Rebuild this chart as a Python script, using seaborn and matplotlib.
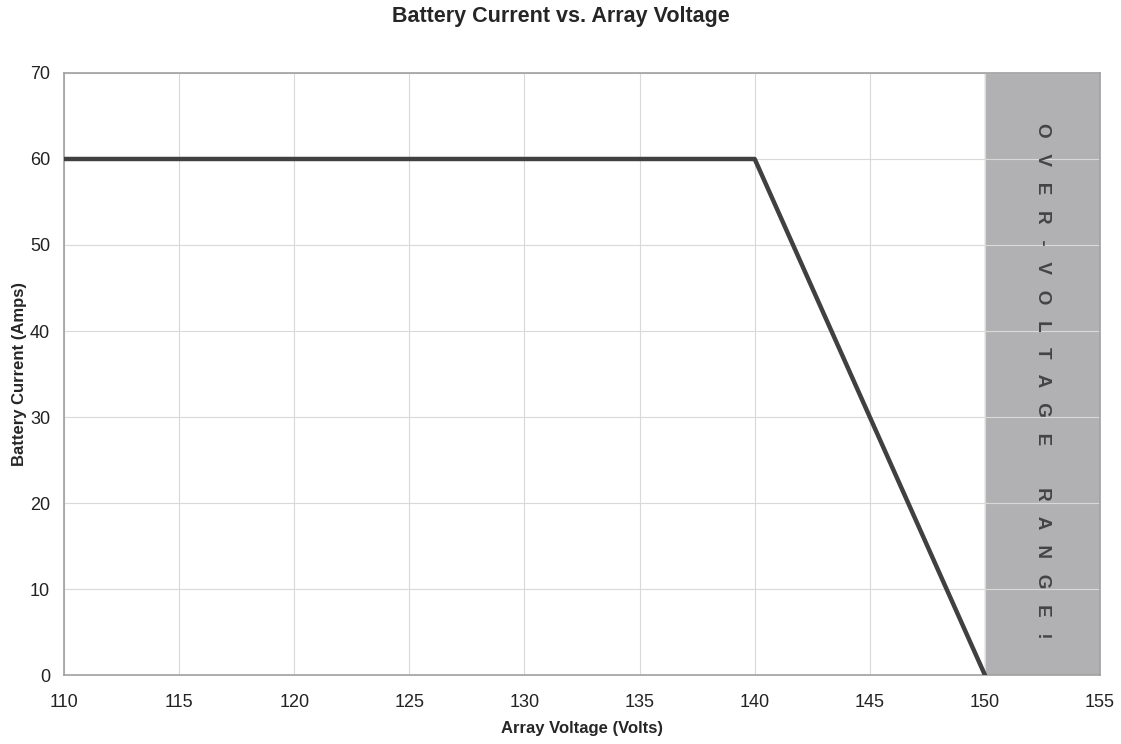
import matplotlib
matplotlib.use("Agg")
import matplotlib.pyplot as plt
import seaborn as sns
import pandas as pd

# data
voltage = [110, 140, 150]
current = [60, 60, 0]
over_start, over_end = 150, 155
x_ticks = [110, 115, 120, 125, 130, 135, 140, 145, 150, 155]
y_ticks = [0, 10, 20, 30, 40, 50, 60, 70]
band_label = '   '.join('OVER-VOLTAGE') + '        ' + '   '.join('RANGE!')

sns.set_style("white")
plt.rcParams['font.family'] = ['Liberation Sans', 'DejaVu Sans']

df = pd.DataFrame({'voltage': voltage, 'current': current})

fig = plt.figure(figsize=(11.21, 7.44), dpi=100)
ax = fig.add_axes([0.0571, 0.0927, 0.9242, 0.8092])

ax.axvspan(over_start, over_end, color='#b1b1b3', zorder=0)
sns.lineplot(data=df, x='voltage', y='current', color='#404040', linewidth=3.2,
             ax=ax, zorder=3)

ax.set_xlim(110, 155)
ax.set_ylim(0, 70)
ax.set_xticks(x_ticks)
ax.set_yticks(y_ticks)
ax.grid(True, color='#d9d9d9', linewidth=0.8, zorder=1)
ax.set_axisbelow(True)
for s in ax.spines.values():
    s.set_color('#a0a0a0')
    s.set_linewidth(1.2)
ax.tick_params(axis='both', labelsize=13, colors='#222222', length=4, color='#a0a0a0')
ax.tick_params(axis='x', pad=10)
ax.tick_params(axis='y', pad=6)

ax.text(152.5, 64.2, band_label, rotation=-90,
        ha='center', va='top', fontsize=13.6, fontweight='bold', color='#444444', zorder=4)

ax.set_xlabel('Array Voltage (Volts)', fontsize=12, fontweight='bold')
ax.set_ylabel('Battery Current (Amps)', fontsize=12, fontweight='bold')
ax.xaxis.set_label_coords(0.5, -0.077)
ax.yaxis.set_label_coords(-0.036, 0.5)
fig.suptitle('Battery Current vs. Array Voltage', fontsize=15.5, fontweight='bold',
             x=0.5, y=0.992)

fig.savefig('out.png', dpi=100)
